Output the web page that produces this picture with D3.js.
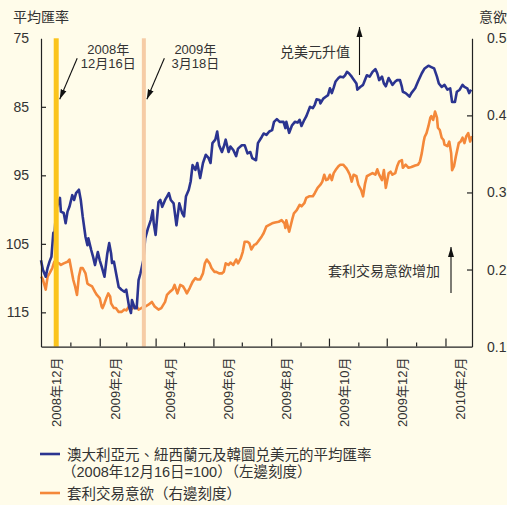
<!DOCTYPE html>
<html>
<head>
<meta charset="utf-8">
<script src="https://cdn.jsdelivr.net/npm/d3@7"></script>
<style>
body { margin: 0; background: #fffcea; }
text { font-family: "Liberation Sans", "Noto Sans CJK TC", sans-serif; fill: #333; }
</style>
</head>
<body>
<div id="chart"></div>
<script>

var startDate = new Date(2008, 11, 1);
var endDate = new Date(2010, 2, 1);

// [days since 2008-12-01, value]
var fxIndex = [
    [0,107.4],[2,108.8],[5,109.8],[7,108.5],[9,107.6],[11,106.9],[13,103.4],[14,104.2],[16,100.0],[20,98.3],
    [21,100.3],[24,100.5],[26,102.0],[28,100.3],[30,99.6],[33,97.9],[35,98.6],[37,97.6],[40,97.1],[42,98.6],
    [44,101.0],[47,104.0],[49,105.2],[50,104.2],[53,105.9],[55,106.9],[57,108.1],[60,106.2],[62,107.4],[64,108.3],
    [67,109.8],[70,106.4],[72,104.9],[74,106.4],[75,107.8],[77,107.6],[79,109.1],[82,111.3],[85,111.7],[88,112.0],
    [90,111.7],[93,114.2],[95,115.1],[96,113.2],[99,114.4],[101,114.4],[103,110.3],[105,109.3],[108,107.4],[110,104.2],
    [113,102.7],[116,101.5],[118,100.1],[119,102.0],[121,103.7],[124,98.9],[126,98.6],[128,99.6],[131,98.6],[133,98.1],
    [135,97.6],[137,98.6],[140,99.1],[143,102.3],[146,99.1],[149,100.5],[151,101.0],[153,98.1],[156,97.1],[158,95.9],
    [160,93.5],[163,94.2],[165,93.2],[168,95.4],[171,93.2],[174,92.0],[177,92.5],[179,93.2],[181,90.3],[184,89.8],
    [186,88.6],[188,90.6],[191,91.6],[193,90.8],[195,89.8],[198,91.6],[200,90.8],[203,91.3],[206,92.2],[208,91.1],
    [212,90.6],[215,90.6],[218,91.8],[221,91.6],[223,92.5],[227,92.8],[229,90.3],[233,89.4],[235,88.9],[238,89.1],
    [241,88.6],[244,88.4],[246,87.2],[249,86.8],[252,87.2],[256,87.2],[258,88.1],[259,87.2],[262,88.8],[265,87.7],
    [268,87.2],[271,87.3],[273,86.9],[275,87.8],[278,86.9],[280,86.4],[282,85.7],[284,85.0],[287,85.2],[289,84.7],
    [291,83.9],[294,84.0],[295,84.5],[298,83.8],[301,83.5],[303,83.3],[305,82.3],[307,83.0],[309,82.2],[311,81.3],
    [314,80.8],[316,80.6],[319,80.7],[321,80.4],[323,79.9],[325,80.1],[328,80.6],[330,81.0],[333,81.6],[334,82.5],
    [337,82.1],[340,81.8],[342,81.1],[344,80.4],[347,80.6],[350,79.9],[353,79.5],[355,80.1],[357,81.1],[360,80.6],
    [362,81.6],[364,82.0],[367,80.8],[369,81.3],[371,81.8],[374,81.3],[376,81.1],[379,81.1],[381,82.1],[382,82.8],
    [385,83.0],[389,83.5],[391,83.0],[395,82.3],[398,81.3],[402,80.1],[405,79.4],[409,79.0],[412,79.2],[415,79.4],
    [418,80.6],[420,81.6],[423,82.1],[426,81.8],[429,82.5],[432,82.3],[434,84.3],[437,84.3],[439,82.8],[442,82.5],
    [445,81.8],[447,82.1],[450,82.3],[452,83.0],[454,82.5]
];

var carryAppetite = [
    [0,0.191],[2,0.187],[5,0.174],[7,0.191],[9,0.195],[12,0.202],[14,0.210],[16,0.210],[19,0.208],[21,0.206],
    [24,0.208],[28,0.210],[30,0.213],[32,0.200],[34,0.187],[36,0.178],[38,0.167],[40,0.191],[42,0.202],[44,0.202],
    [47,0.195],[49,0.182],[51,0.180],[54,0.178],[57,0.171],[59,0.167],[62,0.163],[64,0.152],[65,0.150],[67,0.156],
    [69,0.163],[71,0.169],[73,0.165],[74,0.156],[77,0.150],[79,0.150],[82,0.145],[85,0.145],[88,0.148],[90,0.147],
    [93,0.152],[95,0.148],[98,0.151],[101,0.152],[103,0.148],[106,0.150],[110,0.152],[113,0.154],[117,0.158],[120,0.152],
    [124,0.148],[127,0.150],[131,0.158],[133,0.167],[136,0.171],[139,0.174],[141,0.180],[144,0.169],[147,0.180],[150,0.178],
    [152,0.174],[154,0.169],[157,0.176],[160,0.184],[163,0.189],[165,0.187],[168,0.187],[171,0.195],[173,0.208],[175,0.213],
    [178,0.208],[180,0.202],[183,0.197],[185,0.197],[188,0.195],[191,0.195],[193,0.197],[195,0.208],[198,0.206],[200,0.209],
    [203,0.206],[206,0.213],[208,0.208],[211,0.215],[213,0.223],[215,0.236],[218,0.236],[220,0.234],[222,0.226],[225,0.232],
    [227,0.233],[229,0.236],[233,0.243],[235,0.247],[238,0.256],[241,0.258],[244,0.260],[247,0.261],[251,0.262],[254,0.264],
    [257,0.260],[258,0.254],[259,0.264],[262,0.249],[265,0.264],[267,0.273],[270,0.277],[273,0.284],[275,0.282],[278,0.286],
    [280,0.293],[283,0.295],[287,0.295],[289,0.299],[292,0.306],[295,0.310],[297,0.314],[299,0.323],[301,0.316],[303,0.317],
    [305,0.323],[307,0.316],[309,0.325],[311,0.329],[314,0.334],[316,0.336],[319,0.336],[322,0.332],[324,0.328],[326,0.323],
    [328,0.314],[330,0.323],[333,0.321],[335,0.310],[338,0.303],[340,0.295],[342,0.311],[344,0.321],[347,0.323],[350,0.325],
    [353,0.323],[355,0.330],[357,0.323],[360,0.316],[362,0.329],[364,0.306],[367,0.325],[369,0.327],[371,0.323],[374,0.325],
    [376,0.334],[378,0.340],[381,0.342],[382,0.332],[385,0.336],[388,0.332],[391,0.333],[395,0.335],[398,0.336],[400,0.340],
    [402,0.351],[404,0.366],[405,0.372],[407,0.377],[409,0.386],[411,0.397],[412,0.399],[414,0.394],[416,0.405],[418,0.397],
    [419,0.384],[421,0.381],[423,0.371],[425,0.368],[426,0.362],[429,0.360],[431,0.366],[433,0.351],[434,0.329],[436,0.334],
    [438,0.347],[441,0.364],[443,0.366],[445,0.371],[447,0.364],[449,0.373],[451,0.377],[453,0.366],[455,0.373]
];

var leftTicks = [75, 85, 95, 105, 115];
var rightTicks = [0.1, 0.2, 0.3, 0.4, 0.5];
var monthLabels = ["2008年12月", "2009年2月", "2009年4月", "2009年6月", "2009年8月", "2009年10月", "2009年12月", "2010年2月"];
var markedDates = [new Date(2008, 11, 16), new Date(2009, 2, 18)];
var markedColors = ["#fbc41c", "#f6cca6"];
var legendNames = ["澳大利亞元、紐西蘭元及韓圜兑美元的平均匯率", "（2008年12月16日=100）（左邊刻度）", "套利交易意欲（右邊刻度）"];
var seriesColors = ["#2b3490", "#f4883a"];

var width = 507, height = 505;
var plot = {left: 41, right: 472, top: 38.3, bottom: 346.6};

var svg = d3.select("#chart").append("svg").attr("width", width).attr("height", height);

var x = d3.scaleTime().domain([startDate, endDate]).range([plot.left, plot.right]);
var yL = d3.scaleLinear().domain([75, 120]).range([plot.top, plot.bottom]);
var yR = d3.scaleLinear().domain([0.1, 0.5]).range([plot.bottom, plot.top]);

function dayToDate(d) {
    return d3.timeDay.offset(startDate, d);
}

// lines
var lineL = d3.line().x(function (d) { return x(dayToDate(d[0])); }).y(function (d) { return yL(d[1]); });
var lineR = d3.line().x(function (d) { return x(dayToDate(d[0])); }).y(function (d) { return yR(d[1]); });

svg.append("path").datum(carryAppetite).attr("d", lineR)
    .attr("fill", "none").attr("stroke", seriesColors[1]).attr("stroke-width", 2.6).attr("stroke-linejoin", "round");
svg.append("path").datum(fxIndex).attr("d", lineL)
    .attr("fill", "none").attr("stroke", seriesColors[0]).attr("stroke-width", 2.6).attr("stroke-linejoin", "round");

// marked date bands
svg.append("rect").attr("x", x(markedDates[0]) - 1.5).attr("y", plot.top).attr("width", 5)
    .attr("height", plot.bottom - plot.top).attr("fill", markedColors[0]);
svg.append("rect").attr("x", x(markedDates[1]) - 0.5).attr("y", plot.top).attr("width", 4)
    .attr("height", plot.bottom - plot.top).attr("fill", markedColors[1]);

// axes
var axisL = d3.axisLeft(yL).tickValues(leftTicks).tickSize(-5).tickSizeOuter(0).tickPadding(12);
var gL = svg.append("g").attr("transform", "translate(" + plot.left + ",0)").call(axisL);

var axisR = d3.axisRight(yR).tickValues(rightTicks).tickSize(-5).tickSizeOuter(0).tickPadding(15).tickFormat(d3.format(".1f"));
var gR = svg.append("g").attr("transform", "translate(" + plot.right + ",0)").call(axisR);

var months = d3.timeMonth.range(d3.timeMonth.offset(startDate, 1), endDate);
var axisB = d3.axisBottom(x).tickValues(months).tickSize(-4).tickSizeOuter(0).tickFormat("");
var gB = svg.append("g").attr("transform", "translate(0," + plot.bottom + ")").call(axisB);
gB.selectAll(".tick line").attr("y2", function (d) { return d.getMonth() % 2 == 1 ? -8 : -4; });

[gL, gR, gB].forEach(function (g) {
    g.selectAll(".domain").attr("stroke", "#222").attr("stroke-width", 1.2);
    g.selectAll(".tick line").attr("stroke", "#222").attr("stroke-width", 1.2);
    g.selectAll(".tick text").attr("font-size", 14).attr("fill", "#333")
        .attr("font-family", "Liberation Sans, Noto Sans CJK TC, sans-serif");
});
gL.selectAll(".tick").filter(function (d) { return d == 75; }).select("line").remove();
gR.selectAll(".tick").filter(function (d) { return d == 0.5 || d == 0.1; }).select("line").remove();

// month labels
svg.selectAll(".mlabel").data(monthLabels).enter().append("text")
    .attr("class", "mlabel")
    .attr("transform", function (d, i) {
        var mid = d3.timeDay.offset(d3.timeMonth.offset(startDate, 2 * i), 16);
        return "translate(" + x(mid) + "," + (plot.bottom + 11) + ") rotate(-90)";
    })
    .attr("text-anchor", "end").attr("dy", "0.36em").attr("font-size", 13)
    .text(function (d) { return d; });

// axis titles
svg.append("text").attr("x", 13).attr("y", 22).attr("font-size", 14).text("平均匯率");
svg.append("text").attr("x", 479).attr("y", 22).attr("font-size", 14).text("意欲");

// annotations
var defs = svg.append("defs");
defs.append("marker").attr("id", "arrow").attr("viewBox", "0 0 10 10")
    .attr("refX", 10).attr("refY", 5).attr("markerWidth", 10).attr("markerHeight", 10)
    .attr("markerUnits", "userSpaceOnUse").attr("orient", "auto")
    .append("path").attr("d", "M0,2L10,5L0,8Z").attr("fill", "#111");

function arrow(x1, y1, x2, y2) {
    svg.append("line").attr("x1", x1).attr("y1", y1).attr("x2", x2).attr("y2", y2)
        .attr("stroke", "#111").attr("stroke-width", 1.1).attr("marker-end", "url(#arrow)");
}

var noteDates = [["2008年", "12月16日"], ["2009年", "3月18日"]];
noteDates.forEach(function (lines, i) {
    var cx = x(markedDates[i]) + 53;
    svg.append("text").attr("x", cx).attr("y", 54).attr("text-anchor", "middle").attr("font-size", 13).text(lines[0]);
    svg.append("text").attr("x", cx).attr("y", 68).attr("text-anchor", "middle").attr("font-size", 13).text(lines[1]);
    arrow(x(markedDates[i]) + 22, yL(77.9), x(markedDates[i]) + 4.5, yL(83.9));
});

svg.append("text").attr("x", 350).attr("y", 57).attr("text-anchor", "end").attr("font-size", 14).text("兑美元升值");
arrow(359.5, 75, 359.5, 27);
svg.append("text").attr("x", 440).attr("y", 276).attr("text-anchor", "end").attr("font-size", 14).text("套利交易意欲增加");
arrow(451, 293, 451, 247);

// legend
var legendY = [454, 493];
legendY.forEach(function (ly, i) {
    svg.append("line").attr("x1", 40).attr("x2", 60).attr("y1", ly).attr("y2", ly)
        .attr("stroke", seriesColors[i]).attr("stroke-width", 2.6);
});
svg.append("text").attr("x", 67).attr("y", 460).attr("font-size", 14.5).text(legendNames[0]);
svg.append("text").attr("x", 62).attr("y", 477).attr("font-size", 14.5).text(legendNames[1]);
svg.append("text").attr("x", 67).attr("y", 499).attr("font-size", 14.5).text(legendNames[2]);

</script>
</body>
</html>
